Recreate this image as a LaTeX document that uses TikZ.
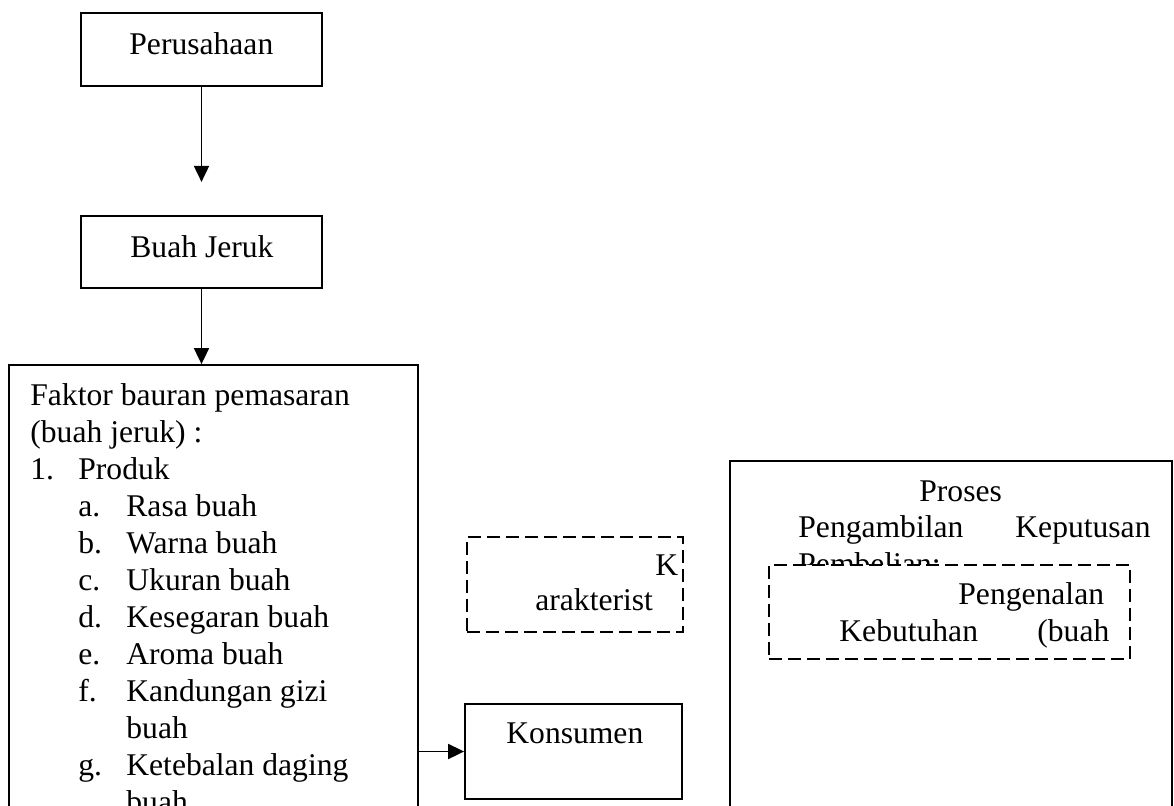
\documentclass[tikz,border=0pt]{standalone}
\usepackage{fontspec}
\setmainfont{Liberation Serif}
\usetikzlibrary{arrows.meta}
\begin{document}
\begin{tikzpicture}[x=0.5pt,y=-0.5pt,
 box/.style={draw,line width=0.9pt,inner sep=0,fill=white},
 dbox/.style={box,dash pattern=on 6.5pt off 3pt},
 txt/.style={anchor=base west,inner sep=0,font=\fontsize{15.8}{18.5}\selectfont},
 arr/.style={line width=0.9pt,-{Triangle[length=8pt,width=7.5pt]}}]
\useasboundingbox (0,0) rectangle (1174,805);
\clip (0,0) rectangle (1174,805);
% boxes
\node[box,minimum width=120.5pt,minimum height=36.5pt] (perus) at (201.5,49.5) {};
\node[box,minimum width=120.5pt,minimum height=36pt] (jeruk) at (201.5,252) {};
\node[box,minimum width=204.5pt,minimum height=232.5pt] (faktor) at (213.5,597.5) {};
\node[dbox,minimum width=108pt,minimum height=47.5pt] (karak) at (575,584.5) {};
\node[box,minimum width=108.5pt,minimum height=47.5pt] (konsumen) at (573.5,751.5) {};
\node[box,minimum width=221pt,minimum height=184.5pt] (proses) at (951,645.5) {};
% texts
\node[txt] (tperus) at (129,54) {Perusahaan};
\node[txt] (tjeruk) at (130,257) {Buah Jeruk};
\node[txt] (f1) at (30,405) {Faktor bauran pemasaran};
\node[txt] (f2) at (30,442) {(buah jeruk) :};
\node[txt] (f3n) at (30,479) {1.};
\node[txt] (f3) at (78,479) {Produk};
\node[txt] (fan) at (78,516) {a.};
\node[txt] (fa) at (126,516) {Rasa buah};
\node[txt] (fbn) at (78,553) {b.};
\node[txt] (fb) at (126,553) {Warna buah};
\node[txt] (fcn) at (78,590) {c.};
\node[txt] (fc) at (126,590) {Ukuran buah};
\node[txt] (fdn) at (78,627) {d.};
\node[txt] (fd) at (126,627) {Kesegaran buah};
\node[txt] (fen) at (78,664) {e.};
\node[txt] (fe) at (126,664) {Aroma buah};
\node[txt] (ffn) at (78,701) {f.};
\node[txt] (ff) at (126,701) {Kandungan gizi};
\node[txt] (ff2) at (126,738) {buah};
\node[txt] (fgn) at (78,775) {g.};
\node[txt] (fg) at (126,775) {Ketebalan daging};
\node[txt] (fg2) at (126,812) {buah};
\node[txt] (tk) at (655,575) {K};
\node[txt] (tkar) at (535,610) {arakterist};
\node[txt] (tkons) at (506,743) {Konsumen};
\node[txt] (tpro) at (919,501) {Proses};
\node[txt] (tpeng) at (798,537) {Pengambilan};
\node[txt] (tkep) at (1015,537) {Keputusan};
\node[txt] (tpemb) at (798,574) {Pembelian:};
\node[dbox,minimum width=180.5pt,minimum height=47pt] (kenal) at (949.5,612) {};
\node[txt] (tkenal) at (958,604) {Pengenalan};
\node[txt] (tkeb) at (839,641) {Kebutuhan};
\node[txt] (tbuah) at (1037,641) {(buah};
% connectors
\draw[arr] (perus.south) -- ++(0,95);
\draw[arr] (jeruk.south) -- (jeruk.south |- faktor.north);
\draw[arr] (konsumen.west -| faktor.east) -- (konsumen.west);
\end{tikzpicture}
\end{document}
